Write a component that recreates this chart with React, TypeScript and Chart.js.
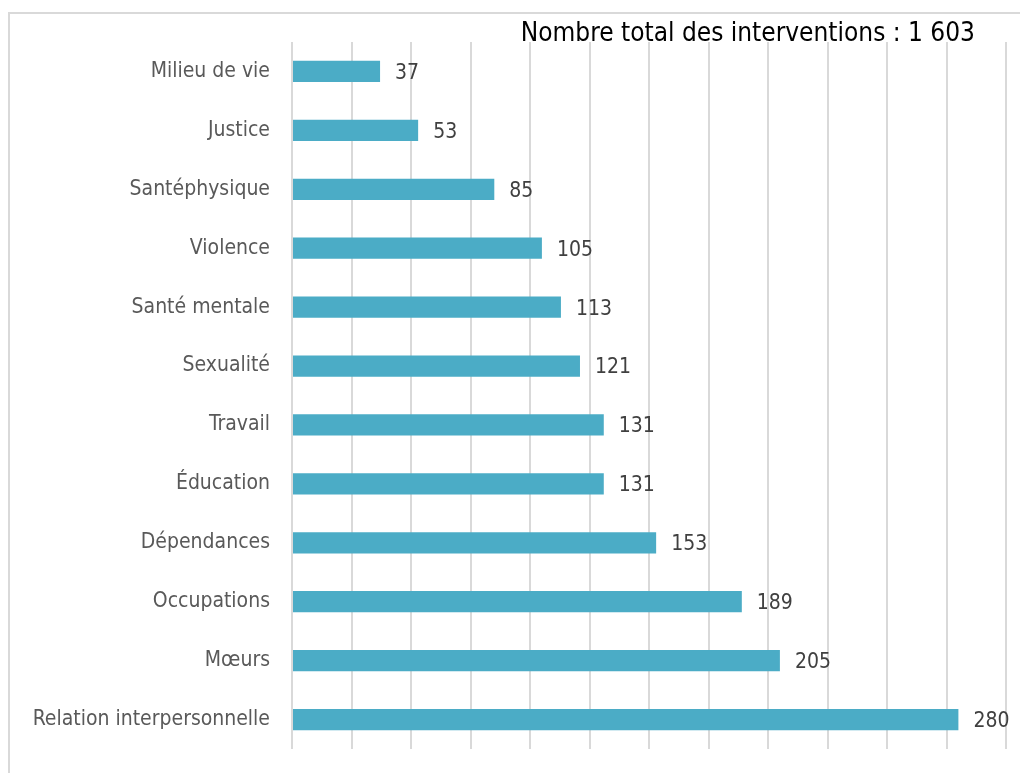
import React, { useEffect, useRef } from "react";
import { Chart, registerables } from "chart.js";

Chart.register(...registerables);

const categories = [
  "Milieu de vie",
  "Justice",
  "Santéphysique",
  "Violence",
  "Santé mentale",
  "Sexualité",
  "Travail",
  "Éducation",
  "Dépendances",
  "Occupations",
  "Mœurs",
  "Relation interpersonnelle",
];
const values = [37, 53, 85, 105, 113, 121, 131, 131, 153, 189, 205, 280];
const titleText = "Nombre total des interventions : 1 603";
const xMin = 0;
const xMax = 300;
const xStep = 25;

const FONT = '"Liberation Sans Narrow", "DejaVu Sans Condensed", "Liberation Sans", sans-serif';

const decorPlugin = {
  id: "decor",
  beforeDraw(chart: any) {
    const ctx = chart.ctx;
    ctx.save();
    ctx.strokeStyle = "#d9d9d9";
    ctx.lineWidth = 2;
    ctx.beginPath();
    ctx.moveTo(9, 773);
    ctx.lineTo(9, 13);
    ctx.lineTo(1020, 13);
    ctx.stroke();
    ctx.restore();
  },
  afterDatasetsDraw(chart: any) {
    const ctx = chart.ctx;
    ctx.save();
    const meta = chart.getDatasetMeta(0);
    ctx.fillStyle = "#404040";
    ctx.font = `21px ${FONT}`;
    ctx.textAlign = "left";
    ctx.textBaseline = "middle";
    meta.data.forEach((bar: any, i: number) => {
      ctx.fillText(String(values[i]), bar.x + 15, bar.y + 2);
    });
    ctx.fillStyle = "#000000";
    ctx.font = `26px ${FONT}`;
    ctx.textAlign = "right";
    ctx.textBaseline = "alphabetic";
    ctx.fillText(titleText, 975, 41);
    ctx.restore();
  },
};

export default function App() {
  const ref = useRef<HTMLCanvasElement>(null);
  useEffect(() => {
    if (!ref.current) return;
    const chart = new Chart(ref.current, {
      type: "bar",
      data: {
        labels: categories,
        datasets: [
          {
            data: values,
            backgroundColor: "#4BACC6",
            barPercentage: 0.36,
            categoryPercentage: 1,
          },
        ],
      },
      options: {
        indexAxis: "y",
        animation: false,
        responsive: false,
        maintainAspectRatio: false,
        devicePixelRatio: 1,
        layout: { padding: { top: 42, right: 14, bottom: 24, left: 0 } },
        plugins: { legend: { display: false }, tooltip: { enabled: false }, title: { display: false } },
        scales: {
          x: {
            min: xMin,
            max: xMax,
            ticks: { display: false, stepSize: xStep },
            grid: { color: "#d9d9d9", lineWidth: 2, drawTicks: false },
            border: { display: false },
            afterFit: (s: any) => {
              s.height = 0;
              s.paddingLeft = 0;
              s.paddingRight = 0;
            },
          },
          y: {
            ticks: {
              color: "#595959",
              font: { size: 21, family: FONT },
              padding: 22,
              autoSkip: false,
            },
            grid: { display: false, drawTicks: false },
            border: { display: false },
            afterFit: (s: any) => {
              s.width = 292;
              s.paddingTop = 0;
              s.paddingBottom = 0;
            },
          },
        },
      },
      plugins: [decorPlugin],
    });
    return () => chart.destroy();
  }, []);
  return (
    <div style={{ position: "fixed", left: 0, top: 0, width: 1020, height: 773, background: "#fff" }}>
      <canvas ref={ref} width={1020} height={773} style={{ display: "block", width: 1020, height: 773 }} />
    </div>
  );
}
